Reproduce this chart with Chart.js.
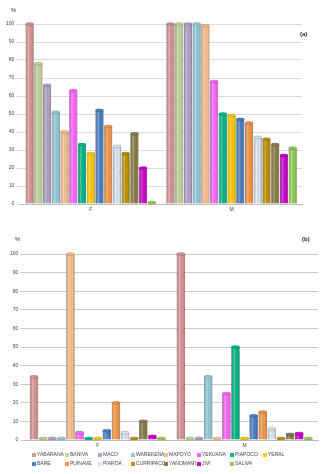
<!DOCTYPE html>
<html>
<head>
<meta charset="utf-8">
<script src="https://cdn.jsdelivr.net/npm/chart.js@4.4.1/dist/chart.umd.min.js"></script>
<style>
  html, body { margin: 0; padding: 0; background: #fff; }
  body { width: 322px; height: 474px; position: relative; overflow: hidden; font-family: "Liberation Sans", Arial, sans-serif; }
  .box { position: absolute; left: 0; width: 322px; }
  #boxA { top: 0; height: 224px; }
  #boxB { top: 226px; height: 226px; }
  .txt { position: absolute; font-size: 6px; color: #333; }
  .tag { position: absolute; font-size: 6px; font-weight: bold; color: #222; }
  #legend { position: absolute; left: 32px; top: 451px; display: grid; grid-template-columns: repeat(8, 33px); row-gap: 3px; font-size: 5px; color: #444; }
  #legend span { white-space: nowrap; }
  #legend i { display: inline-block; width: 4px; height: 4px; margin-right: 1px; vertical-align: -0.5px; }
</style>
</head>
<body>
<div class="box" id="boxA"><canvas id="chartA"></canvas></div>
<div class="box" id="boxB"><canvas id="chartB"></canvas></div>
<div class="txt" style="left:11px;top:7px;">%</div>
<div class="tag" style="left:300px;top:31px;">(a)</div>
<div class="txt" style="left:15px;top:236px;">%</div>
<div class="tag" style="left:302px;top:236px;">(b)</div>
<div id="legend"></div>
<script>
const categories = ["F", "M"];
const tribes = ["YABARANA", "BANIVA", "MACO", "WAREKENA", "MAPOYO", "YEKUANA", "PIAPOCO", "YERAL",
  "BARE", "PUINAVE", "PIAROA", "CURRIPACO", "YANOMAMI", "JIVI", "SALIVA"];
const colors = ["#d99594", "#c3d69b", "#b3a2c7", "#92cddc", "#fac08f", "#ff66ff", "#00b88a", "#ffcc00",
  "#4a7fc4", "#f79646", "#dce6f2", "#c09100", "#8b7d45", "#cc00cc", "#92d050"];

// (a) values per tribe, F then M
const panelA_F = [100, 78, 66, 51, 40, 63, 33, 28, 52, 43, 32, 28, 39, 20, 0];
const panelA_M = [100, 100, 100, 100, 99, 68, 50, 49, 47, 45, 37, 36, 33, 27, 31];
// (b)
const panelB_F = [34, 0, 0, 0, 100, 4, 0, 0, 5, 20, 4, 0, 10, 2, 0];
const panelB_M = [100, 0, 0, 34, 0, 25, 50, 0, 13, 15, 6, 0, 3, 3.5, 0];

const yTicks = [0, 10, 20, 30, 40, 50, 60, 70, 80, 90, 100];

function darken(hex, f) {
  const n = parseInt(hex.slice(1), 16);
  const r = Math.round(((n >> 16) & 255) * f);
  const g = Math.round(((n >> 8) & 255) * f);
  const b = Math.round((n & 255) * f);
  return `rgb(${r},${g},${b})`;
}

// fake cylinder shading on top of each bar
const cylinderShade = {
  id: "cylinderShade",
  afterDatasetsDraw(chart) {
    const ctx = chart.ctx;
    chart.data.datasets.forEach((ds, i) => {
      chart.getDatasetMeta(i).data.forEach((bar) => {
        const left = bar.x - bar.width / 2;
        const right = bar.x + bar.width / 2;
        const top = Math.min(bar.y, bar.base);
        const h = Math.abs(bar.base - bar.y);
        const g = ctx.createLinearGradient(left, 0, right, 0);
        g.addColorStop(0, "rgba(0,0,0,0.18)");
        g.addColorStop(0.35, "rgba(255,255,255,0.28)");
        g.addColorStop(0.7, "rgba(0,0,0,0)");
        g.addColorStop(1, "rgba(0,0,0,0.22)");
        ctx.save();
        ctx.fillStyle = g;
        ctx.fillRect(left, top, right - left, h);
        // top cap
        ctx.beginPath();
        ctx.ellipse(bar.x, top, bar.width / 2, 1.3, 0, 0, Math.PI * 2);
        ctx.fillStyle = ds.backgroundColor;
        ctx.fill();
        ctx.strokeStyle = ds.borderColor;
        ctx.lineWidth = 0.6;
        ctx.stroke();
        ctx.restore();
      });
    });
  }
};

function makeDatasets(fVals, mVals) {
  return tribes.map((name, i) => ({
    label: name,
    data: [fVals[i], mVals[i]],
    backgroundColor: colors[i],
    borderColor: darken(colors[i], 0.7),
    borderWidth: 0.6,
    minBarLength: 1.5,
    categoryPercentage: 0.93,
    barPercentage: 0.92
  }));
}

function makeChart(id, fVals, mVals, padding, gridColor) {
  return new Chart(document.getElementById(id), {
    type: "bar",
    data: { labels: categories, datasets: makeDatasets(fVals, mVals) },
    options: {
      responsive: true,
      maintainAspectRatio: false,
      animation: false,
      layout: { padding },
      plugins: { legend: { display: false }, tooltip: { enabled: false } },
      scales: {
        x: {
          grid: { display: false, drawTicks: false },
          border: { display: true, color: "#bbb" },
          ticks: { color: "#444", font: { size: 5, family: "Liberation Sans" }, padding: 3 }
        },
        y: {
          min: 0,
          max: 100,
          afterBuildTicks: (axis) => { axis.ticks = yTicks.map((v) => ({ value: v })); },
          grid: { color: gridColor, lineWidth: 0.8, tickLength: 4 },
          border: { display: false },
          ticks: { color: "#444", font: { size: 5, family: "Liberation Sans" }, padding: 2 }
        }
      }
    },
    plugins: [cylinderShade]
  });
}

makeChart("chartA", panelA_F, panelA_M, { left: 4, right: 20, top: 24, bottom: 8 }, "#d0d0d0");
makeChart("chartB", panelB_F, panelB_M, { left: 8, right: 4, top: 28, bottom: 0 }, "#bdbdbd");

const legend = document.getElementById("legend");
tribes.forEach((name, i) => {
  const s = document.createElement("span");
  s.innerHTML = `<i style="background:${colors[i]}"></i>${name}`;
  if (i === 8) s.style.gridColumnStart = 1;
  legend.appendChild(s);
});
</script>
</body>
</html>
